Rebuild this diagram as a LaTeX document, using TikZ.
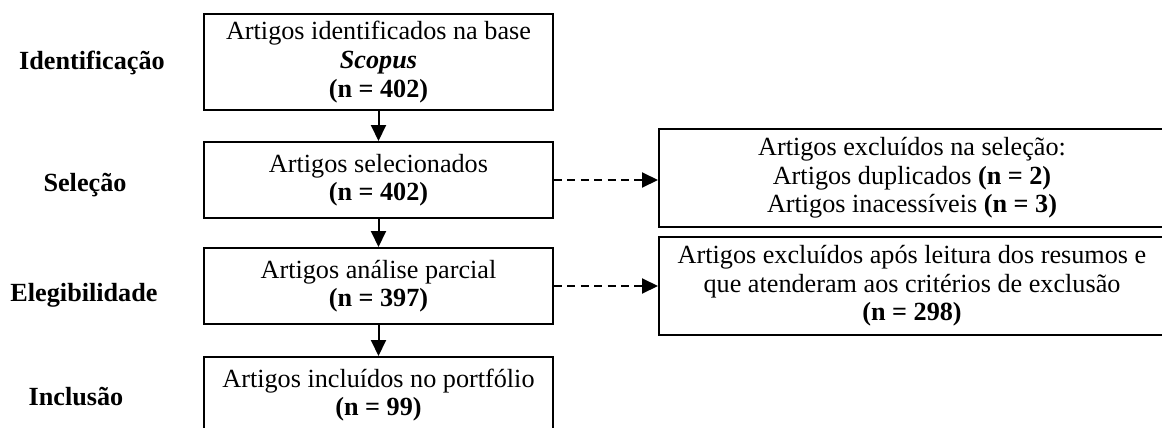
\documentclass[tikz,border=0pt]{standalone}
\usepackage{fontspec}
\setmainfont{Liberation Serif}
\usetikzlibrary{arrows.meta}

\begin{document}
\begin{tikzpicture}
	[x=0.5pt,y=-0.5pt,every node/.style={draw,line width=1pt,align=center,inner sep=0pt,font=\fontsize{13.1}{14.3}\selectfont}]
	\useasboundingbox (0,0) rectangle (1162,428);
	\node[minimum width=174.5pt,minimum height=48pt] (ident) at (378.5,62) {Artigos identificados na base\\\textbf{\textit{Scopus}}\\\textbf{(n = 402)}};
	\node[minimum width=174.5pt,minimum height=38pt] (selec) at (378.5,180) {Artigos selecionados\\\textbf{(n = 402)}};
	\node[minimum width=174.5pt,minimum height=38pt] (eleg) at (378.5,286) {Artigos análise parcial\\\textbf{(n = 397)}};
	\node[minimum width=174.5pt,minimum height=38pt] (incl) at (378.5,395) {Artigos incluídos no portfólio\\\textbf{(n = 99)}};
	\node[minimum width=253pt,minimum height=49pt] (excsel) at (912,178) {Artigos excluídos na seleção:\\Artigos duplicados \textbf{(n = 2)}\\Artigos inacessíveis \textbf{(n = 3)}};
	\node[minimum width=253pt,minimum height=49pt] (exceleg) at (912,286) {Artigos excluídos após leitura dos resumos e\\que atenderam aos critérios de exclusão\\\textbf{(n = 298)}};
	
	\node[style={draw=none,font=\fontsize{13.1}{14.3}\selectfont\bfseries}] (lident) at (92,63) {Identificação};
	\node[style={draw=none,font=\fontsize{13.1}{14.3}\selectfont\bfseries}] (lselec) at (85,185) {Seleção};
	\node[style={draw=none,font=\fontsize{13.1}{14.3}\selectfont\bfseries}] (leleg) at (84,295) {Elegibilidade};
	\node[style={draw=none,font=\fontsize{13.1}{14.3}\selectfont\bfseries}] (lincl) at (76,397) {Inclusão};
	
	\foreach \from/\to in 
	{ident/selec, selec/eleg, eleg/incl}
	\draw[line width=1pt,-{Triangle[length=8pt,width=7.5pt]}] (\from) -- (\to);
	\foreach \from/\to in 
	{selec/excsel, eleg/exceleg}
	\draw[line width=1pt,dash pattern=on 4pt off 2.7pt,-{Triangle[length=8pt,width=7.5pt]}] (\from.east) -- (\from.east -| \to.west);
\end{tikzpicture}
\end{document}
